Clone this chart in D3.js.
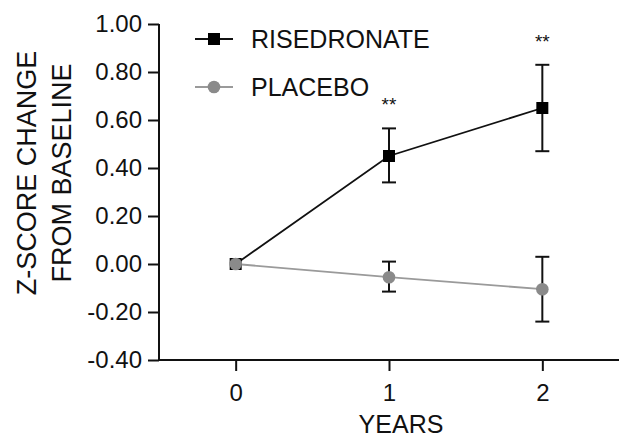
<!DOCTYPE html>
<html><head><meta charset="utf-8">
<script src="https://cdn.jsdelivr.net/npm/d3@7"></script>
<style>body{margin:0;background:#fff}svg{display:block}text{font-family:"Liberation Sans",Arial,sans-serif;fill:#111}</style>
</head><body>
<svg id="c" width="619" height="438"></svg>
<script>
const years = [0, 1, 2];
const risedronateMean = [0, 0.45, 0.65];
const risedronateLow = [0, 0.34, 0.47];
const risedronateHigh = [0, 0.565, 0.83];
const placeboMean = [0, -0.055, -0.105];
const placeboLow = [0, -0.115, -0.24];
const placeboHigh = [0, 0.01, 0.03];
const yTicks = [-0.4, -0.2, 0, 0.2, 0.4, 0.6, 0.8, 1.0];
const sigLabels = ["", "**", "**"];
const seriesNames = ["RISEDRONATE", "PLACEBO"];

const svg = d3.select("#c");
const x = d3.scaleLinear().domain([-0.5, 2.5]).range([159, 619]);
const y = d3.scaleLinear().domain([-0.4, 1.0]).range([360, 24]);

const fmtY = d => d3.format(".2f")(d).replace("\u2212", "-");

// axes
const yAxis = svg.append("g").attr("transform", "translate(159,0)")
  .call(d3.axisLeft(y).tickValues(yTicks).tickSize(11).tickPadding(6).tickFormat(fmtY));
const xAxis = svg.append("g").attr("transform", "translate(0,360)")
  .call(d3.axisBottom(x).tickValues(years).tickSize(11).tickPadding(13).tickFormat(d3.format("d")));
[yAxis, xAxis].forEach(g => {
  g.select(".domain").attr("stroke", "#111").attr("stroke-width", 2);
  g.selectAll(".tick line").attr("stroke", "#111").attr("stroke-width", 2);
  g.selectAll(".tick text").style("font-size", "24px").attr("fill", "#111");
});
xAxis.select(".domain").attr("d", "M159,0H619");
yAxis.select(".domain").attr("d", "M0,360V24");

// axis titles
svg.append("text").attr("x", 401).attr("y", 433).attr("text-anchor", "middle")
  .style("font-size", "25px").text("YEARS");
const yl = svg.append("text").attr("transform", "translate(36,173) rotate(-90)")
  .attr("text-anchor", "middle").style("font-size", "27px");
yl.append("tspan").attr("x", 0).attr("y", 0).text("Z-SCORE CHANGE");
yl.append("tspan").attr("x", 0).attr("y", 35).text("FROM BASELINE");

const line = d3.line().x((d, i) => x(years[i])).y(d => y(d));

// placebo
svg.append("path").attr("d", line(placeboMean)).attr("fill", "none")
  .attr("stroke", "#9a9a9a").attr("stroke-width", 1.8);
// risedronate
svg.append("path").attr("d", line(risedronateMean)).attr("fill", "none")
  .attr("stroke", "#111").attr("stroke-width", 1.8);

function errBars(lo, hi) {
  years.forEach((yr, i) => {
    if (lo[i] === hi[i]) return;
    const g = svg.append("g").attr("stroke", "#111").attr("stroke-width", 2);
    g.append("line").attr("x1", x(yr)).attr("x2", x(yr)).attr("y1", y(lo[i])).attr("y2", y(hi[i]));
    g.append("line").attr("x1", x(yr) - 7).attr("x2", x(yr) + 7).attr("y1", y(lo[i])).attr("y2", y(lo[i]));
    g.append("line").attr("x1", x(yr) - 7).attr("x2", x(yr) + 7).attr("y1", y(hi[i])).attr("y2", y(hi[i]));
  });
}
errBars(placeboLow, placeboHigh);
errBars(risedronateLow, risedronateHigh);

svg.selectAll(".sq").data(risedronateMean).enter().append("rect")
  .attr("x", (d, i) => x(years[i]) - 6).attr("y", d => y(d) - 6)
  .attr("width", 12).attr("height", 12).attr("fill", "#000");
svg.selectAll(".ci").data(placeboMean).enter().append("circle")
  .attr("cx", (d, i) => x(years[i])).attr("cy", d => y(d)).attr("r", 6.3).attr("fill", "#8a8a8a");

// significance
svg.selectAll(".sig").data(sigLabels).enter().append("text")
  .attr("x", (d, i) => x(years[i])).attr("y", (d, i) => y(risedronateHigh[i]) - 17)
  .attr("text-anchor", "middle").style("font-size", "19px").attr("fill", "#333").text(d => d);

// legend
const legY = [39, 87];
const legStroke = ["#111", "#9a9a9a"];
seriesNames.forEach((n, i) => {
  svg.append("line").attr("x1", 195).attr("x2", 233).attr("y1", legY[i]).attr("y2", legY[i])
    .attr("stroke", legStroke[i]).attr("stroke-width", 1.8);
  if (i === 0) svg.append("rect").attr("x", 208).attr("y", legY[i] - 6).attr("width", 12).attr("height", 12).attr("fill", "#000");
  else svg.append("circle").attr("cx", 214).attr("cy", legY[i]).attr("r", 6.3).attr("fill", "#8a8a8a");
  svg.append("text").attr("x", 251).attr("y", legY[i]).attr("dy", "0.36em")
    .style("font-size", "25px").text(n);
});
</script>
</body></html>
